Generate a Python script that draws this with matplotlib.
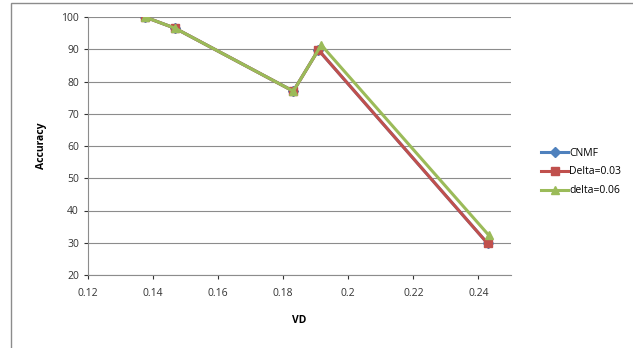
import matplotlib.pyplot as plt
from matplotlib.patches import Rectangle

# VD vs accuracy for the three settings
vd_cnmf = [0.1375, 0.1468, 0.1831, 0.1908, 0.2428]
acc_cnmf = [100, 96.5, 77, 89.8, 29.8]

vd_d03 = [0.1375, 0.1468, 0.1831, 0.1908, 0.2428]
acc_d03 = [100, 96.5, 77, 89.8, 29.8]

vd_d06 = [0.1375, 0.1468, 0.1831, 0.1917, 0.2432]
acc_d06 = [100, 96.5, 77, 91.3, 32.3]

labels = ['CNMF', 'Delta=0.03', 'delta=0.06']
x_ticks = [0.12, 0.14, 0.16, 0.18, 0.2, 0.22, 0.24]
x_tick_labels = ['0.12', '0.14', '0.16', '0.18', '0.2', '0.22', '0.24']
y_ticks = [20, 30, 40, 50, 60, 70, 80, 90, 100]

plt.rcParams['font.family'] = ['Open Sans', 'DejaVu Sans']

W, H = 633, 348
fig = plt.figure(figsize=(W / 100, H / 100), dpi=100)
fig.patch.set_facecolor('white')

# outer chart frame
fig.patches.append(Rectangle((11 / W, -0.01), 1.2, (H - 3) / H + 0.01,
                             transform=fig.transFigure, fill=False,
                             edgecolor='#8c8c8c', linewidth=1.0))

ax = fig.add_axes([88 / W, 1 - 275 / H, (511 - 88) / W, (275 - 17) / H])

ax.plot(vd_cnmf, acc_cnmf, color='#4F81BD', marker='D', markersize=5,
        linewidth=2.2, label=labels[0])
ax.plot(vd_d03, acc_d03, color='#C0504D', marker='s', markersize=6,
        linewidth=2.2, label=labels[1])
ax.plot(vd_d06, acc_d06, color='#9BBB59', marker='^', markersize=6,
        linewidth=2.2, label=labels[2])

ax.set_xlim(0.12, 0.25)
ax.set_ylim(20, 100)
ax.set_xticks(x_ticks)
ax.set_xticklabels(x_tick_labels)
ax.set_yticks(y_ticks)
ax.tick_params(axis='both', labelsize=7.5, colors='#333333', length=3,
               direction='out', width=0.8)
ax.tick_params(axis='x', pad=6)
for t in ax.get_xticklines() + ax.get_yticklines():
    t.set_color('#8c8c8c')

ax.grid(axis='y', color='#8c8c8c', linewidth=0.8)
ax.set_axisbelow(True)
for s in ['top', 'right']:
    ax.spines[s].set_visible(False)
for s in ['left', 'bottom']:
    ax.spines[s].set_color('#8c8c8c')
    ax.spines[s].set_linewidth(0.8)

ax.set_xlabel('VD', fontsize=7.5, fontweight='bold', labelpad=12)
ax.set_ylabel('Accuracy', fontsize=7.5, fontweight='bold', labelpad=10)

fig.legend(loc='center left', bbox_to_anchor=(532 / W, 1 - 172 / H),
           frameon=False, fontsize=7.5, handlelength=2.6, labelspacing=0.75,
           handletextpad=0.1)

fig.savefig('out.png', dpi=100)
